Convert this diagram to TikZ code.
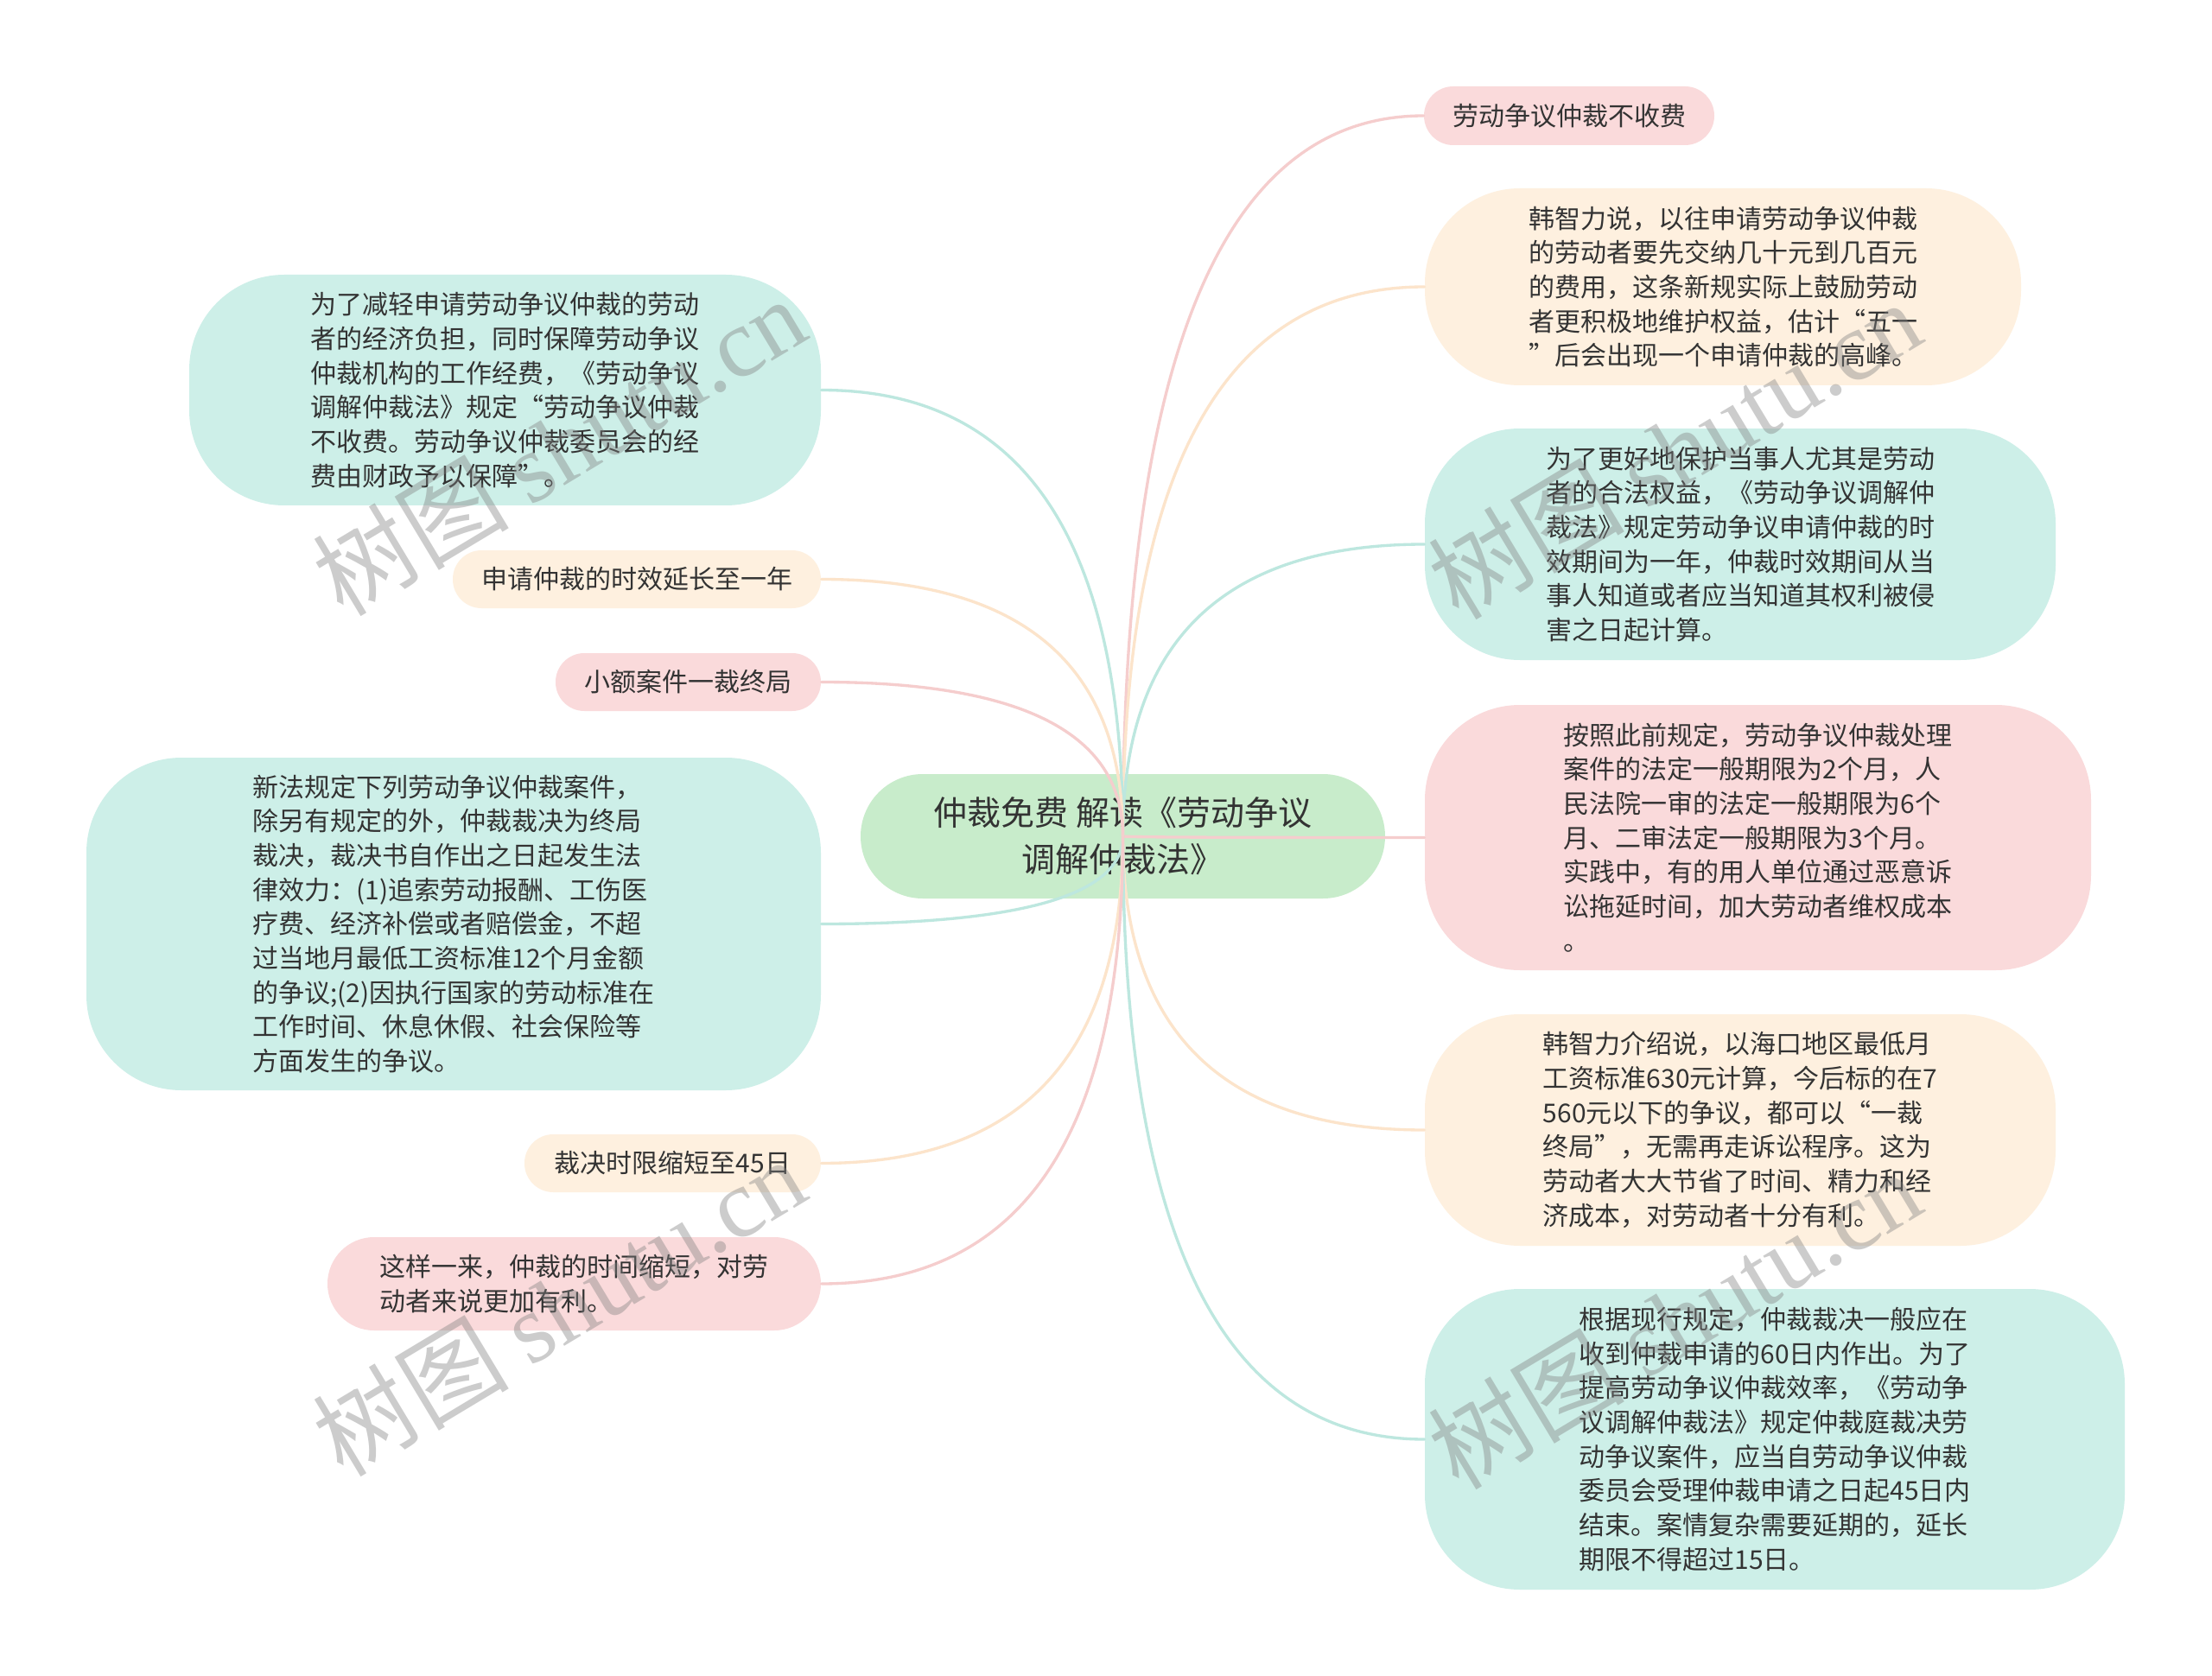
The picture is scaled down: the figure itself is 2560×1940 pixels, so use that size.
\documentclass[tikz,border=0pt]{standalone}
\usepackage{fontspec}
\setmainfont{Noto Sans CJK SC}
\newfontfamily\wmlat{Liberation Serif}
\usetikzlibrary{calc}
\definecolor{tealfill}{HTML}{CDEFE8}
\definecolor{pinkfill}{HTML}{FADADB}
\definecolor{peachfill}{HTML}{FEF0DF}
\definecolor{rootfill}{HTML}{C8ECCB}
\definecolor{tealline}{HTML}{BDE7DF}
\definecolor{pinkline}{HTML}{F5CDCD}
\definecolor{peachline}{HTML}{FCE4CB}
\definecolor{txt}{HTML}{333333}
\tikzset{
  box/.style={inner sep=0pt, align=left, text=txt, font=\fontsize{9pt}{11.9pt}\selectfont},
  tealbox/.style={box, fill=tealfill},
  pinkbox/.style={box, fill=pinkfill},
  peachbox/.style={box, fill=peachfill},
  rootbox/.style={inner sep=0pt, align=center, text=txt, fill=rootfill,
    font=\fontsize{11.7pt}{16.2pt}\selectfont},
  conn/.style={line width=1pt, line cap=round},
  tealconn/.style={conn, draw=tealline},
  pinkconn/.style={conn, draw=pinkline},
  peachconn/.style={conn, draw=peachline},
  wm/.style={rotate=31, inner sep=0pt, text=black!50, text opacity=0.4,
    font=\fontsize{34pt}{34pt}\selectfont}
}
\newcommand\linkto[3]{\draw[#3] (root.center) .. controls ($(root.center)!0.6667!(root.center |- #1.#2)$) and ($(#1.#2)!0.6667!(root.center |- #1.#2)$) .. (#1.#2);}
\begin{document}
\begin{tikzpicture}[x=0.3pt,y=-0.3pt]
\useasboundingbox (0,0) rectangle (2560,1940);
\fill[white] (0,0) rectangle (2560,1940);

% root
\node[rootbox, minimum width=182.1pt, minimum height=43.2pt, rounded corners=21.6pt] (root) at (1299.5,968) {仲裁免费 解读《劳动争议\\调解仲裁法》};

% right side
\node[pinkbox, minimum width=100.8pt, minimum height=20.4pt, rounded corners=10.2pt] (r1) at (1816,134) {劳动争议仲裁不收费};
\node[peachbox, minimum width=207pt, minimum height=68.4pt, rounded corners=33pt] (r2) at (1994,332) {韩智力说，以往申请劳动争议仲裁\\的劳动者要先交纳几十元到几百元\\的费用，这条新规实际上鼓励劳动\\者更积极地维护权益，估计“五一\\”后会出现一个申请仲裁的高峰。};
\node[tealbox, minimum width=219pt, minimum height=80.4pt, rounded corners=33pt] (r3) at (2014,630) {为了更好地保护当事人尤其是劳动\\者的合法权益，《劳动争议调解仲\\裁法》规定劳动争议申请仲裁的时\\效期间为一年，仲裁时效期间从当\\事人知道或者应当知道其权利被侵\\害之日起计算。};
\node[pinkbox, minimum width=231.3pt, minimum height=92.1pt, rounded corners=33pt] (r4) at (2034.5,969.5) {按照此前规定，劳动争议仲裁处理\\案件的法定一般期限为2个月，人\\民法院一审的法定一般期限为6个\\月、二审法定一般期限为3个月。\\实践中，有的用人单位通过恶意诉\\讼拖延时间，加大劳动者维权成本\\。};
\node[peachbox, minimum width=219pt, minimum height=80.4pt, rounded corners=33pt] (r5) at (2014,1308) {韩智力介绍说，以海口地区最低月\\工资标准630元计算，今后标的在7\\560元以下的争议，都可以“一裁\\终局”，无需再走诉讼程序。这为\\劳动者大大节省了时间、精力和经\\济成本，对劳动者十分有利。};
\node[tealbox, minimum width=243pt, minimum height=104.4pt, rounded corners=33pt] (r6) at (2054,1666) {根据现行规定，仲裁裁决一般应在\\收到仲裁申请的60日内作出。为了\\提高劳动争议仲裁效率，《劳动争\\议调解仲裁法》规定仲裁庭裁决劳\\动争议案件，应当自劳动争议仲裁\\委员会受理仲裁申请之日起45日内\\结束。案情复杂需要延期的，延长\\期限不得超过15日。};

% left side
\node[tealbox, minimum width=219.3pt, minimum height=80.1pt, rounded corners=33pt] (l1) at (584.5,451.5) {为了减轻申请劳动争议仲裁的劳动\\者的经济负担，同时保障劳动争议\\仲裁机构的工作经费，《劳动争议\\调解仲裁法》规定“劳动争议仲裁\\不收费。劳动争议仲裁委员会的经\\费由财政予以保障”。};
\node[peachbox, minimum width=127.8pt, minimum height=20.1pt, rounded corners=10pt] (l2) at (737,670.5) {申请仲裁的时效延长至一年};
\node[pinkbox, minimum width=92.1pt, minimum height=20.1pt, rounded corners=10pt] (l3) at (796.5,789.5) {小额案件一裁终局};
\node[tealbox, minimum width=255pt, minimum height=115.5pt, rounded corners=33pt] (l4) at (525,1069.5) {新法规定下列劳动争议仲裁案件，\\除另有规定的外，仲裁裁决为终局\\裁决，裁决书自作出之日起发生法\\律效力：(1)追索劳动报酬、工伤医\\疗费、经济补偿或者赔偿金，不超\\过当地月最低工资标准12个月金额\\的争议;(2)因执行国家的劳动标准在\\工作时间、休息休假、社会保险等\\方面发生的争议。};
\node[peachbox, minimum width=102.9pt, minimum height=20.1pt, rounded corners=10pt] (l5) at (778.5,1346.5) {裁决时限缩短至45日};
\node[pinkbox, minimum width=171.3pt, minimum height=32.4pt, rounded corners=16.2pt] (l6) at (664.5,1486) {这样一来，仲裁的时间缩短，对劳\\动者来说更加有利。};

% connectors
\linkto{r1}{west}{pinkconn}
\linkto{r2}{west}{peachconn}
\linkto{r3}{west}{tealconn}
\linkto{r4}{west}{pinkconn}
\linkto{r5}{west}{peachconn}
\linkto{r6}{west}{tealconn}
\linkto{l1}{east}{tealconn}
\linkto{l2}{east}{peachconn}
\linkto{l3}{east}{pinkconn}
\linkto{l4}{east}{tealconn}
\linkto{l5}{east}{peachconn}
\linkto{l6}{east}{pinkconn}

% watermarks
\node[wm] (w1) at (647,516) {树图 {\wmlat shutu.cn}};
\node[wm] (w2) at (647,1512) {树图 {\wmlat shutu.cn}};
\node[wm] (w3) at (1938,520) {树图 {\wmlat shutu.cn}};
\node[wm] (w4) at (1938,1527) {树图 {\wmlat shutu.cn}};
\end{tikzpicture}
\end{document}
